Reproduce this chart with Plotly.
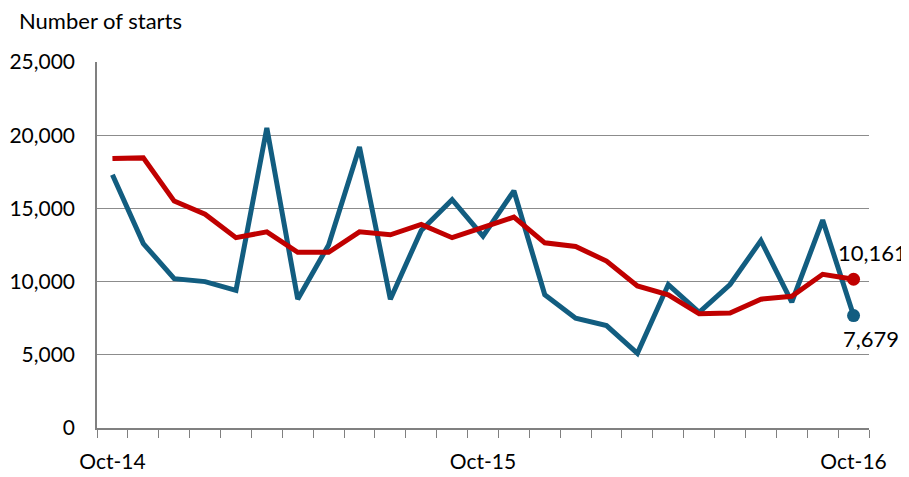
import plotly.graph_objects as go

months = ["Oct-14", "Nov-14", "Dec-14", "Jan-15", "Feb-15", "Mar-15", "Apr-15",
          "May-15", "Jun-15", "Jul-15", "Aug-15", "Sep-15", "Oct-15", "Nov-15",
          "Dec-15", "Jan-16", "Feb-16", "Mar-16", "Apr-16", "May-16", "Jun-16",
          "Jul-16", "Aug-16", "Sep-16", "Oct-16"]

# monthly starts (blue) and rolling average (red)
monthly = [17300, 12600, 10200, 10000, 9400, 20500, 8800, 12500, 19200, 8800,
           13500, 15600, 13100, 16200, 9100, 7500, 7000, 5100, 9800, 7900,
           9800, 12800, 8600, 14200, 7679]
average = [18400, 18450, 15500, 14600, 13000, 13400, 12000, 12000, 13400, 13200,
           13900, 13000, 13700, 14400, 12650, 12400, 11400, 9700, 9100, 7800,
           7850, 8800, 9000, 10500, 10161]

tick_labels = [m if m.startswith("Oct") else "" for m in months]

blue = "#125d80"
red = "#c00000"
font = "Lato, 'DejaVu Sans', sans-serif"

fig = go.Figure()
fig.add_trace(go.Scatter(x=months, y=monthly, mode="lines",
                         line=dict(color=blue, width=5), showlegend=False))
fig.add_trace(go.Scatter(x=months, y=average, mode="lines",
                         line=dict(color=red, width=5), showlegend=False))
# end markers
fig.add_trace(go.Scatter(x=[months[-1]], y=[monthly[-1]], mode="markers",
                         marker=dict(color=blue, size=13), showlegend=False))
fig.add_trace(go.Scatter(x=[months[-1]], y=[average[-1]], mode="markers",
                         marker=dict(color=red, size=13), showlegend=False))

fig.add_annotation(x=months[-1], y=average[-1], text=f"{average[-1]:,}",
                   showarrow=False, xshift=19, yshift=27,
                   font=dict(size=22, color="black", family=font))
fig.add_annotation(x=months[-1], y=monthly[-1], text=f"{monthly[-1]:,}",
                   showarrow=False, xshift=17, yshift=-23,
                   font=dict(size=22, color="black", family=font))
fig.add_annotation(x=-0.104, y=1.155, xref="paper", yref="paper", xanchor="left",
                   yanchor="top", text="Number of starts", showarrow=False,
                   font=dict(size=22, color="black", family=font))

# page has an 8px body margin, so the figure is a bit smaller than the window
fig.update_layout(
    width=901, height=469,
    margin=dict(l=89, r=40, t=54, b=49),
    plot_bgcolor="white", paper_bgcolor="white",
    font=dict(family=font, size=20, color="black"),
    xaxis=dict(
        type="category", range=[-0.5, 24.5], automargin=False,
        tickmode="array", tickvals=months, ticktext=tick_labels, tickangle=0,
        tickson="boundaries", ticks="outside", ticklen=8, tickcolor="#808080",
        ticklabelstandoff=14,
        showline=True, linecolor="#808080", linewidth=1.5,
        showgrid=False, tickfont=dict(size=21),
    ),
    yaxis=dict(
        range=[0, 25000], dtick=5000, tickformat=",d", automargin=False,
        ticklabelstandoff=16,
        showline=True, linecolor="#808080", linewidth=1.5,
        showgrid=True, gridcolor="#8c8c8c", gridwidth=1,
        zeroline=False, ticks="", tickfont=dict(size=21),
    ),
)

fig.write_html("out.html")
